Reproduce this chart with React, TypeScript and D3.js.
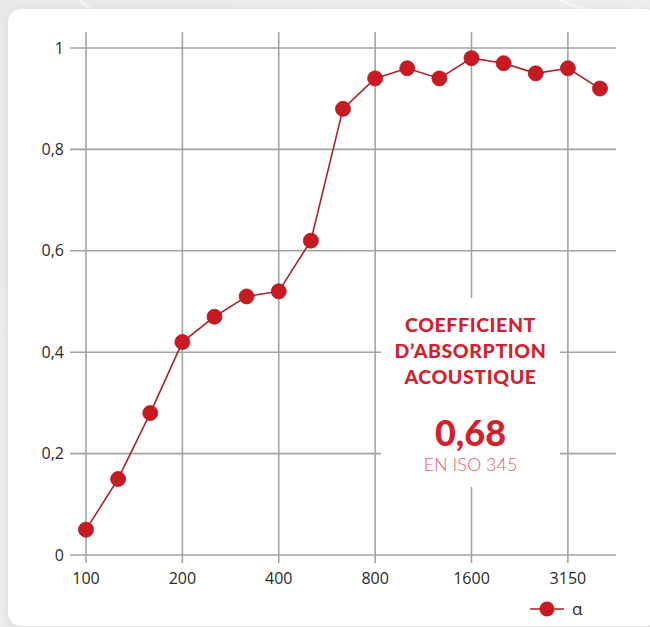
import React from "react";
import * as d3 from "d3";

const frequencies = ["100","125","160","200","250","315","400","500","630","800","1000","1250","1600","2000","2500","3150","4000"];
const alphaValues = [0.05,0.15,0.28,0.42,0.47,0.51,0.52,0.62,0.88,0.94,0.96,0.94,0.98,0.97,0.95,0.96,0.92];
const xTickLabels = ["100","200","400","800","1600","3150"];
const yTickValues = [0,0.2,0.4,0.6,0.8,1];
const yTickLabels = ["0","0,2","0,4","0,6","0,8","1"];
const seriesName = "α";
const boxTitleLines = ["COEFFICIENT","D’ABSORPTION","ACOUSTIQUE"];
const boxValue = "0,68";
const boxNorm = "EN ISO 345";

export default function App() {
  const W = 650, H = 627;
  const x = d3.scalePoint<string>().domain(frequencies).range([86, 600]);
  const y = d3.scaleLinear().domain([0, 1]).range([555, 48]);
  const line = d3.line<number>().x((_, i) => x(frequencies[i]) as number).y(d => y(d));
  const grid = "#a3a3a3";
  const red = "#c81a22";
  const labelFont = "'Open Sans', 'Noto Sans', sans-serif";
  const boxX0 = 381, boxX1 = 560, boxY0 = 298, boxY1 = 487;
  const cx = (boxX0 + boxX1) / 2;
  return (
    <svg width={W} height={H} style={{ position: "absolute", left: 0, top: 0 }}>
      <defs>
        <linearGradient id="bg" x1="0" y1="0" x2="1" y2="1">
          <stop offset="0" stopColor="#e9e9e9" />
          <stop offset="1" stopColor="#f1f1f1" />
        </linearGradient>
        <filter id="sh" x="-5%" y="-5%" width="110%" height="110%">
          <feGaussianBlur stdDeviation="3" />
        </filter>
      </defs>
      <rect x={0} y={0} width={W} height={H} fill="url(#bg)" />
      <path d="M80,0 Q120,40 200,60" stroke="#f6f6f6" strokeWidth={3} fill="none" />
      <path d="M560,0 Q600,20 640,8" stroke="#f6f6f6" strokeWidth={3} fill="none" />
      <rect x={7} y={10} width={650} height={620} rx={14} fill="#cfcfcf" filter="url(#sh)" opacity={0.6} />
      <rect x={8} y={9} width={650} height={617} rx={13} fill="#ffffff" />
      {yTickValues.map(v => (
        <line key={"h" + v} x1={70} x2={616} y1={y(v)} y2={y(v)} stroke={grid} strokeWidth={1.6} />
      ))}
      {xTickLabels.map(f => (
        <line key={"v" + f} x1={x(f)} x2={x(f)} y1={32} y2={563} stroke={grid} strokeWidth={1.6} />
      ))}
      <rect x={boxX0} y={boxY0} width={boxX1 - boxX0} height={boxY1 - boxY0} fill="#ffffff" />
      {boxTitleLines.map((t, i) => (
        <text key={t} x={cx} y={332 + i * 26} textAnchor="middle" fill="#d3202d"
          fontFamily="Lato, 'Noto Sans', sans-serif" fontWeight={900} fontSize={19.5} letterSpacing={0.6}>{t}</text>
      ))}
      <text x={cx} y={446} textAnchor="middle" fill="#d3202d" fontFamily="Lato, 'Noto Sans', sans-serif" fontWeight={900} fontSize={36}>{boxValue}</text>
      <text x={cx} y={471} textAnchor="middle" fill="#e0606a" fontFamily="Lato, 'Open Sans', sans-serif" fontWeight={300} fontSize={18}>{boxNorm}</text>
      {yTickValues.map((v, i) => (
        <text key={"yl" + v} x={64} y={y(v)} dy="0.35em" textAnchor="end" fill="#2a2a2a" fontFamily={labelFont} fontSize={16}>{yTickLabels[i]}</text>
      ))}
      {xTickLabels.map(f => (
        <text key={"xl" + f} x={x(f)} y={584} textAnchor="middle" fill="#2a2a2a" fontFamily={labelFont} fontSize={16}>{f}</text>
      ))}
      <path d={line(alphaValues) || ""} fill="none" stroke="#a8232a" strokeWidth={1.6} />
      {alphaValues.map((v, i) => (
        <circle key={"p" + i} cx={x(frequencies[i])} cy={y(v)} r={7.5} fill={red} stroke="#b0171e" strokeWidth={0.8} />
      ))}
      <line x1={530} x2={564} y1={609} y2={609} stroke="#a8232a" strokeWidth={1.6} />
      <circle cx={547} cy={609} r={7.5} fill={red} />
      <text x={572} y={609} dy="0.35em" fill="#2a2a2a" fontFamily={labelFont} fontSize={17}>{seriesName}</text>
    </svg>
  );
}
